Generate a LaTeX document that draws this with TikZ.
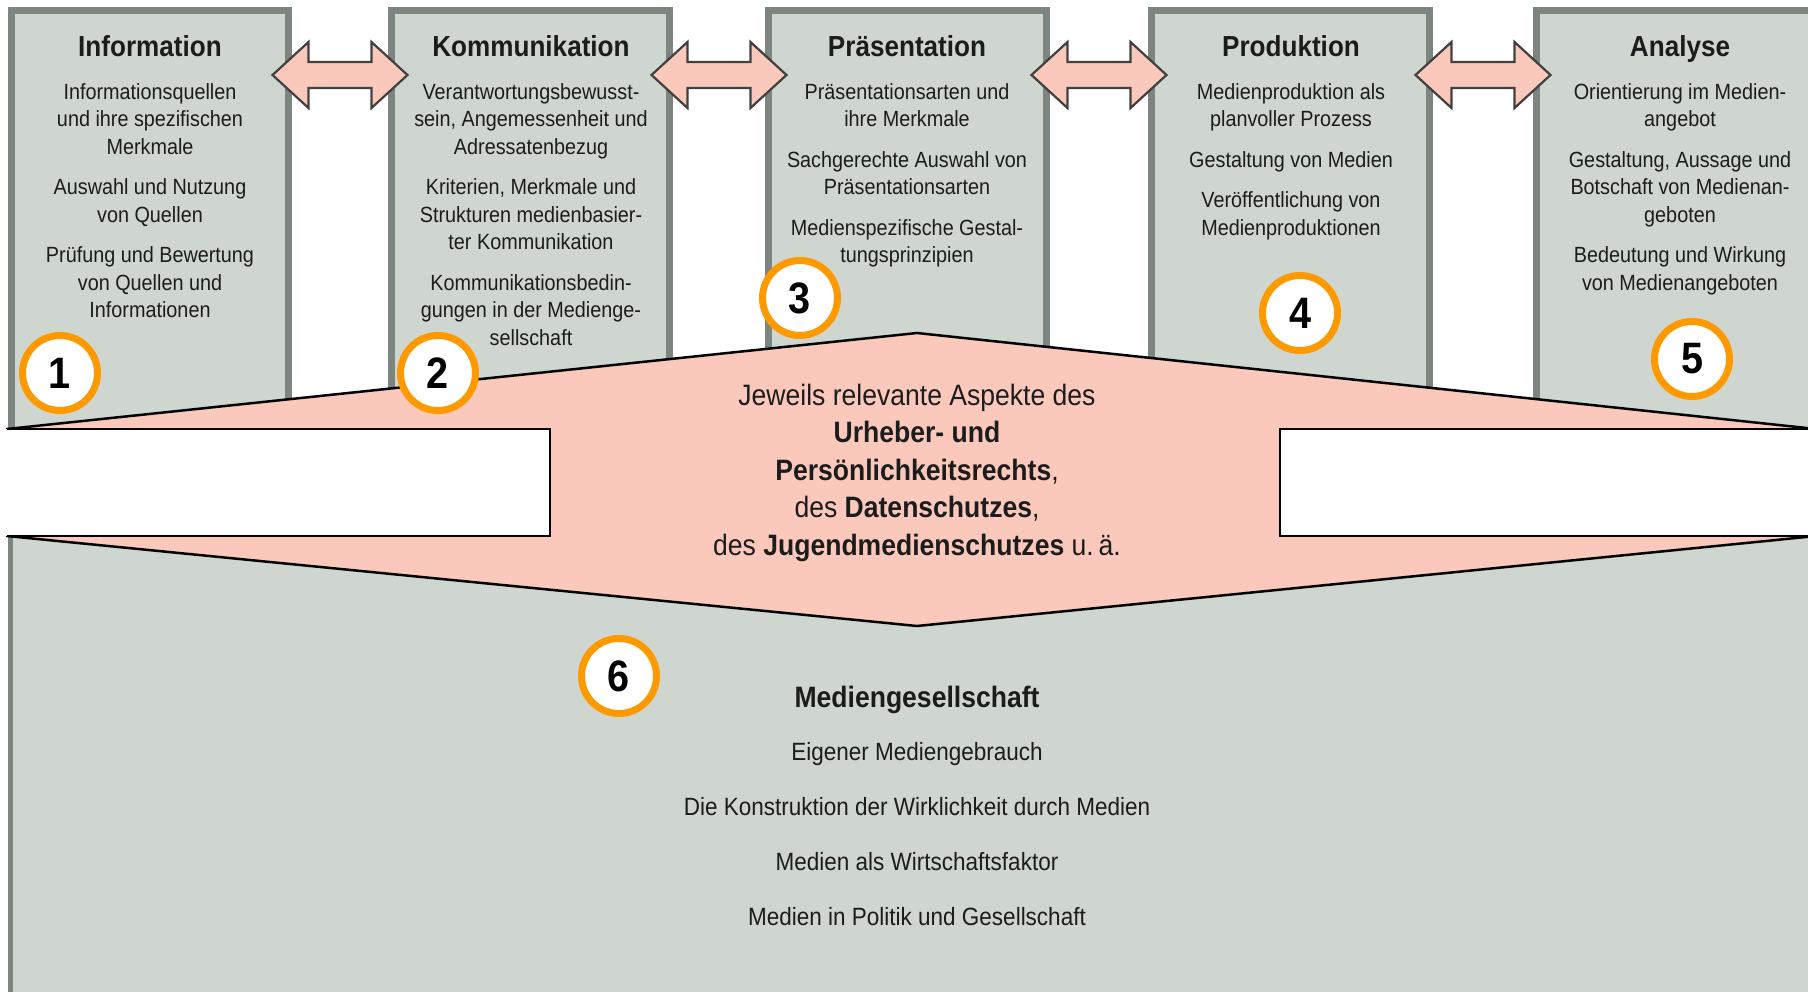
\documentclass[tikz,border=0pt]{standalone}
\usepackage{fontspec}
\setmainfont{Liberation Sans}[FakeStretch=0.9]
\definecolor{boxfill}{RGB}{207,214,207}
\definecolor{boxline}{RGB}{125,133,128}
\definecolor{pinkfill}{RGB}{250,201,188}
\definecolor{arrowline}{RGB}{64,64,64}
\definecolor{orangec}{RGB}{255,153,0}
\definecolor{txt}{RGB}{28,28,28}
\begin{document}
\begin{tikzpicture}[x=1pt,y=-1pt,
  colbox/.style={draw=boxline, line width=7pt, fill=boxfill},
  dblarrow/.style={draw=arrowline, line width=2.2pt, fill=pinkfill, line join=miter},
  pinkshape/.style={draw=black, line width=2.5pt, fill=pinkfill, line join=miter},
  wline/.style={draw=black, line width=2pt},
  numcirc/.style={circle, draw=orangec, line width=7pt, fill=white, minimum size=75pt, inner sep=0pt, text=black, font=\fontsize{44}{44}\selectfont\bfseries},
  coltitle/.style={anchor=base, inner sep=0pt, text=txt, font=\fontsize{29}{34}\selectfont\bfseries},
  colbody/.style={anchor=north, align=center, inner sep=0pt, text=txt, font=\fontsize{22}{27.5}\selectfont},
  pinktext/.style={anchor=north, align=center, inner sep=0pt, text=txt, font=\fontsize{29.5}{37.5}\selectfont},
  mtitle/.style={anchor=base, inner sep=0pt, text=txt, font=\fontsize{29.5}{34}\selectfont\bfseries},
  mbody/.style={anchor=base, inner sep=0pt, text=txt, font=\fontsize{25}{30}\selectfont}
]
\useasboundingbox (0,0) rectangle (1808,992);
\clip (0,0) rectangle (1808,992);

% lower large box (Mediengesellschaft)
\fill[boxfill] (10.5,470) rectangle (1830,1000);
\draw[boxline, line width=5pt] (10.5,470) -- (10.5,1000);

% column boxes
\path[colbox] (11.5,10.5) rectangle (288.5,470);
\path[colbox] (391.5,10.5) rectangle (669.5,470);
\path[colbox] (768.5,10.5) rectangle (1046.5,470);
\path[colbox] (1151.5,10.5) rectangle (1429.5,470);
\path[colbox] (1536.5,10.5) rectangle (1840,470);

% big pink arrow shape
\path[pinkshape] (7,429) -- (917,333) -- (1816,429) -- (1816,536) -- (917,626) -- (7,536) -- cycle;

% white bars
\fill[white] (0,429) rectangle (550,536);
\draw[wline] (7,429) -- (550,429) -- (550,536) -- (7,536);
\fill[white] (1280,429) rectangle (1816,536);
\draw[wline] (1816,429) -- (1280,429) -- (1280,536) -- (1816,536);

% double arrows between columns
\foreach \c in {340,719,1099,1483}{
  \path[dblarrow] (\c-67.5,75) -- (\c-31.5,42) -- (\c-31.5,62) -- (\c+31.5,62) -- (\c+31.5,42)
     -- (\c+67.5,75) -- (\c+31.5,108) -- (\c+31.5,88) -- (\c-31.5,88) -- (\c-31.5,108) -- cycle;
}

% column titles
\node[coltitle] (t1) at (150,57) {Information};
\node[coltitle] (t2) at (531,57) {Kommunikation};
\node[coltitle] (t3) at (907,57) {Präsentation};
\node[coltitle] (t4) at (1291,57) {Produktion};
\node[coltitle] (t5) at (1680,57) {Analyse};

% column bodies (first baseline at y=99; strut height 19.25)
\node[colbody] (b1) at (150,79.75) {\strut Informationsquellen\\und ihre spezifischen\\Merkmale\\[13pt]Auswahl und Nutzung\\von Quellen\\[13pt]Prüfung und Bewertung\\von Quellen und\\Informationen};
\node[colbody] (b2) at (531,79.75) {\strut Verantwortungsbewusst-\\sein, Angemessenheit und\\Adressatenbezug\\[13pt]Kriterien, Merkmale und\\Strukturen medienbasier-\\ter Kommunikation\\[13pt]Kommunikationsbedin-\\gungen in der Medienge-\\sellschaft};
\node[colbody] (b3) at (907,79.75) {\strut Präsentationsarten und\\ihre Merkmale\\[13pt]Sachgerechte Auswahl von\\Präsentationsarten\\[13pt]Medienspezifische Gestal-\\tungsprinzipien};
\node[colbody] (b4) at (1291,79.75) {\strut Medienproduktion als\\planvoller Prozess\\[13pt]Gestaltung von Medien\\[13pt]Veröffentlichung von\\Medienproduktionen};
\node[colbody] (b5) at (1680,79.75) {\strut Orientierung im Medien-\\angebot\\[13pt]Gestaltung, Aussage und\\Botschaft von Medienan-\\geboten\\[13pt]Bedeutung und Wirkung\\von Medienangeboten};

% text in pink arrow (first baseline at y=405; strut height 26.25)
\node[pinktext] (law) at (917,378.75) {\strut Jeweils relevante Aspekte des\\\textbf{Urheber- und}\\\textbf{Persönlichkeitsrechts},\\des \textbf{Datenschutzes},\\des \textbf{Jugendmedienschutzes} u.\,ä.};

% Mediengesellschaft
\node[mtitle] (m0) at (917,707) {Mediengesellschaft};
\node[mbody] (m1) at (917,760) {Eigener Mediengebrauch};
\node[mbody] (m2) at (917,815) {Die Konstruktion der Wirklichkeit durch Medien};
\node[mbody] (m3) at (917,870) {Medien als Wirtschaftsfaktor};
\node[mbody] (m4) at (917,925) {Medien in Politik und Gesellschaft};

% numbered circles
\node[numcirc] (n1) at (60,373) {1};
\node[numcirc] (n2) at (438,373) {2};
\node[numcirc] (n3) at (800,298) {3};
\node[numcirc] (n4) at (1300,313) {4};
\node[numcirc] (n5) at (1692,359) {5};
\node[numcirc] (n6) at (619,676) {6};
\end{tikzpicture}
\end{document}
